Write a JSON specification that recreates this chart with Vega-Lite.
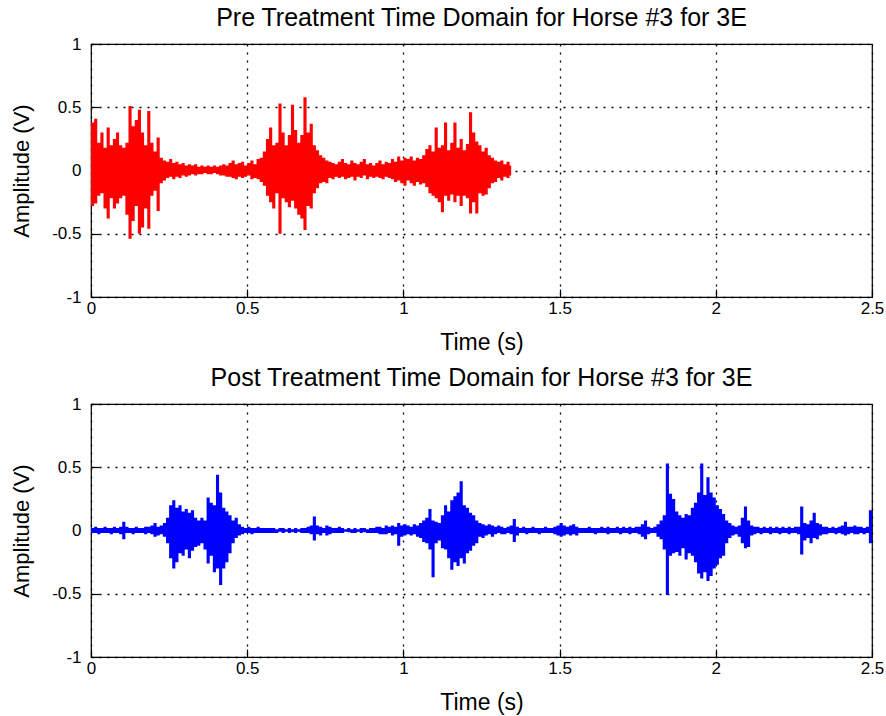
{
"$schema": "https://vega.github.io/schema/vega-lite/v6.json",
"autosize": {"type": "pad"},
"padding": {"left": 10, "top": 5, "right": 5, "bottom": 5},
"background": "white",
"spacing": 107,
"bounds": "flush",
"config": {
"view": {"stroke": "#000", "strokeWidth": 1.2},
"font": "Liberation Sans",
"axis": {"grid": true, "gridColor": "#000", "gridDash": [2, 6], "gridWidth": 1.3, "gridOpacity": 1, "domain": false, "ticks": true, "tickColor": "#000", "tickSize": -8, "tickWidth": 1.2, "labelFont": "Liberation Sans", "labelFontSize": 17, "labelColor": "#000", "labelFlush": false, "labelOverlap": false, "titleFont": "Liberation Sans", "titleFontSize": 22, "titleFontWeight": "normal", "titleColor": "#000"},
"axisX": {"labelPadding": 11, "titlePadding": 15, "titleFontSize": 23},
"axisY": {"labelPadding": 18, "titlePadding": 18},
"title": {"font": "Liberation Sans", "fontSize": 25, "fontWeight": "normal", "color": "#000", "offset": 4, "anchor": "middle"}
},
"datasets": {
"pre": [
{"t":0.00,"hi":0.38,"lo":-0.28},{"t":0.01,"hi":0.41,"lo":-0.26},{"t":0.02,"hi":0.22,"lo":-0.2},{"t":0.03,"hi":0.3,"lo":-0.18},{"t":0.04,"hi":0.18,"lo":-0.3},
{"t":0.05,"hi":0.34,"lo":-0.38},{"t":0.06,"hi":0.2,"lo":-0.22},{"t":0.07,"hi":0.25,"lo":-0.3},{"t":0.08,"hi":0.3,"lo":-0.26},{"t":0.09,"hi":0.2,"lo":-0.22},
{"t":0.10,"hi":0.18,"lo":-0.2},{"t":0.11,"hi":0.22,"lo":-0.35},{"t":0.12,"hi":0.51,"lo":-0.54},{"t":0.13,"hi":0.35,"lo":-0.4},{"t":0.14,"hi":0.4,"lo":-0.28},
{"t":0.15,"hi":0.48,"lo":-0.5},{"t":0.16,"hi":0.3,"lo":-0.45},{"t":0.17,"hi":0.2,"lo":-0.3},{"t":0.18,"hi":0.47,"lo":-0.46},{"t":0.19,"hi":0.22,"lo":-0.2},
{"t":0.20,"hi":0.15,"lo":-0.16},{"t":0.21,"hi":0.26,"lo":-0.32},{"t":0.22,"hi":0.1,"lo":-0.1},{"t":0.23,"hi":0.08,"lo":-0.08},{"t":0.24,"hi":0.07,"lo":-0.06},
{"t":0.25,"hi":0.09,"lo":-0.05},{"t":0.26,"hi":0.06,"lo":-0.07},{"t":0.27,"hi":0.07,"lo":-0.05},{"t":0.28,"hi":0.05,"lo":-0.06},{"t":0.29,"hi":0.06,"lo":-0.04},
{"t":0.30,"hi":0.04,"lo":-0.05},{"t":0.31,"hi":0.05,"lo":-0.04},{"t":0.32,"hi":0.04,"lo":-0.03},{"t":0.33,"hi":0.05,"lo":-0.04},{"t":0.34,"hi":0.03,"lo":-0.03},
{"t":0.35,"hi":0.04,"lo":-0.03},{"t":0.36,"hi":0.03,"lo":-0.02},{"t":0.37,"hi":0.04,"lo":-0.03},{"t":0.38,"hi":0.03,"lo":-0.03},{"t":0.39,"hi":0.04,"lo":-0.02},
{"t":0.40,"hi":0.03,"lo":-0.03},{"t":0.41,"hi":0.04,"lo":-0.04},{"t":0.42,"hi":0.05,"lo":-0.04},{"t":0.43,"hi":0.04,"lo":-0.05},{"t":0.44,"hi":0.06,"lo":-0.05},
{"t":0.45,"hi":0.08,"lo":-0.06},{"t":0.46,"hi":0.05,"lo":-0.07},{"t":0.47,"hi":0.06,"lo":-0.05},{"t":0.48,"hi":0.07,"lo":-0.06},{"t":0.49,"hi":0.04,"lo":-0.05},
{"t":0.50,"hi":0.06,"lo":-0.04},{"t":0.51,"hi":0.08,"lo":-0.07},{"t":0.52,"hi":0.05,"lo":-0.06},{"t":0.53,"hi":0.09,"lo":-0.07},{"t":0.54,"hi":0.1,"lo":-0.09},
{"t":0.55,"hi":0.15,"lo":-0.12},{"t":0.56,"hi":0.25,"lo":-0.2},{"t":0.57,"hi":0.34,"lo":-0.25},{"t":0.58,"hi":0.2,"lo":-0.3},{"t":0.59,"hi":0.22,"lo":-0.18},
{"t":0.60,"hi":0.53,"lo":-0.5},{"t":0.61,"hi":0.3,"lo":-0.22},{"t":0.62,"hi":0.2,"lo":-0.25},{"t":0.63,"hi":0.28,"lo":-0.29},{"t":0.64,"hi":0.52,"lo":-0.24},
{"t":0.65,"hi":0.32,"lo":-0.3},{"t":0.66,"hi":0.22,"lo":-0.35},{"t":0.67,"hi":0.28,"lo":-0.38},{"t":0.68,"hi":0.58,"lo":-0.47},{"t":0.69,"hi":0.3,"lo":-0.28},
{"t":0.70,"hi":0.37,"lo":-0.3},{"t":0.71,"hi":0.2,"lo":-0.18},{"t":0.72,"hi":0.16,"lo":-0.14},{"t":0.73,"hi":0.12,"lo":-0.1},{"t":0.74,"hi":0.1,"lo":-0.09},
{"t":0.75,"hi":0.08,"lo":-0.1},{"t":0.76,"hi":0.07,"lo":-0.06},{"t":0.77,"hi":0.06,"lo":-0.07},{"t":0.78,"hi":0.05,"lo":-0.05},{"t":0.79,"hi":0.07,"lo":-0.06},
{"t":0.80,"hi":0.09,"lo":-0.05},{"t":0.81,"hi":0.06,"lo":-0.07},{"t":0.82,"hi":0.05,"lo":-0.06},{"t":0.83,"hi":0.08,"lo":-0.05},{"t":0.84,"hi":0.06,"lo":-0.08},
{"t":0.85,"hi":0.05,"lo":-0.05},{"t":0.86,"hi":0.07,"lo":-0.06},{"t":0.87,"hi":0.09,"lo":-0.04},{"t":0.88,"hi":0.05,"lo":-0.07},{"t":0.89,"hi":0.06,"lo":-0.05},
{"t":0.90,"hi":0.04,"lo":-0.06},{"t":0.91,"hi":0.06,"lo":-0.05},{"t":0.92,"hi":0.08,"lo":-0.06},{"t":0.93,"hi":0.05,"lo":-0.07},{"t":0.94,"hi":0.07,"lo":-0.05},
{"t":0.95,"hi":0.06,"lo":-0.06},{"t":0.96,"hi":0.09,"lo":-0.07},{"t":0.97,"hi":0.07,"lo":-0.09},{"t":0.98,"hi":0.11,"lo":-0.08},{"t":0.99,"hi":0.08,"lo":-0.1},
{"t":1.00,"hi":0.1,"lo":-0.12},{"t":1.01,"hi":0.09,"lo":-0.08},{"t":1.02,"hi":0.11,"lo":-0.1},{"t":1.03,"hi":0.08,"lo":-0.12},{"t":1.04,"hi":0.1,"lo":-0.09},
{"t":1.05,"hi":0.09,"lo":-0.11},{"t":1.06,"hi":0.12,"lo":-0.1},{"t":1.07,"hi":0.17,"lo":-0.13},{"t":1.08,"hi":0.2,"lo":-0.18},{"t":1.09,"hi":0.15,"lo":-0.2},
{"t":1.10,"hi":0.34,"lo":-0.22},{"t":1.11,"hi":0.18,"lo":-0.25},{"t":1.12,"hi":0.2,"lo":-0.33},{"t":1.13,"hi":0.38,"lo":-0.2},{"t":1.14,"hi":0.16,"lo":-0.24},
{"t":1.15,"hi":0.22,"lo":-0.19},{"t":1.16,"hi":0.38,"lo":-0.25},{"t":1.17,"hi":0.18,"lo":-0.2},{"t":1.18,"hi":0.25,"lo":-0.28},{"t":1.19,"hi":0.16,"lo":-0.2},
{"t":1.20,"hi":0.21,"lo":-0.22},{"t":1.21,"hi":0.46,"lo":-0.34},{"t":1.22,"hi":0.3,"lo":-0.25},{"t":1.23,"hi":0.23,"lo":-0.34},{"t":1.24,"hi":0.2,"lo":-0.18},
{"t":1.25,"hi":0.15,"lo":-0.2},{"t":1.26,"hi":0.18,"lo":-0.19},{"t":1.27,"hi":0.12,"lo":-0.14},{"t":1.28,"hi":0.1,"lo":-0.1},{"t":1.29,"hi":0.08,"lo":-0.09},
{"t":1.30,"hi":0.07,"lo":-0.06},{"t":1.31,"hi":0.08,"lo":-0.08},{"t":1.32,"hi":0.05,"lo":-0.05},{"t":1.33,"hi":0.07,"lo":-0.06},{"t":1.34,"hi":0.04,"lo":-0.04},
{"t":1.345,"hi":0.03,"lo":-0.03}
],
"post": [
{"t":0.00,"hi":0.02,"lo":-0.02},{"t":0.01,"hi":0.03,"lo":-0.02},{"t":0.02,"hi":0.02,"lo":-0.03},{"t":0.03,"hi":0.02,"lo":-0.02},{"t":0.04,"hi":0.03,"lo":-0.02},
{"t":0.05,"hi":0.02,"lo":-0.02},{"t":0.06,"hi":0.02,"lo":-0.03},{"t":0.07,"hi":0.03,"lo":-0.02},{"t":0.08,"hi":0.02,"lo":-0.02},{"t":0.09,"hi":0.03,"lo":-0.03},
{"t":0.10,"hi":0.07,"lo":-0.07},{"t":0.11,"hi":0.03,"lo":-0.02},{"t":0.12,"hi":0.02,"lo":-0.02},{"t":0.13,"hi":0.02,"lo":-0.03},{"t":0.14,"hi":0.03,"lo":-0.02},
{"t":0.15,"hi":0.02,"lo":-0.02},{"t":0.16,"hi":0.02,"lo":-0.02},{"t":0.17,"hi":0.03,"lo":-0.03},{"t":0.18,"hi":0.03,"lo":-0.02},{"t":0.19,"hi":0.04,"lo":-0.03},
{"t":0.20,"hi":0.06,"lo":-0.05},{"t":0.21,"hi":0.03,"lo":-0.04},{"t":0.22,"hi":0.04,"lo":-0.03},{"t":0.23,"hi":0.06,"lo":-0.05},{"t":0.24,"hi":0.1,"lo":-0.1},
{"t":0.25,"hi":0.2,"lo":-0.22},{"t":0.26,"hi":0.24,"lo":-0.3},{"t":0.27,"hi":0.18,"lo":-0.25},{"t":0.28,"hi":0.2,"lo":-0.18},{"t":0.29,"hi":0.15,"lo":-0.2},
{"t":0.30,"hi":0.17,"lo":-0.15},{"t":0.31,"hi":0.14,"lo":-0.22},{"t":0.32,"hi":0.16,"lo":-0.16},{"t":0.33,"hi":0.1,"lo":-0.13},{"t":0.34,"hi":0.08,"lo":-0.12},
{"t":0.35,"hi":0.1,"lo":-0.1},{"t":0.36,"hi":0.08,"lo":-0.15},{"t":0.37,"hi":0.26,"lo":-0.26},{"t":0.38,"hi":0.22,"lo":-0.2},{"t":0.39,"hi":0.2,"lo":-0.33},
{"t":0.40,"hi":0.44,"lo":-0.3},{"t":0.41,"hi":0.3,"lo":-0.43},{"t":0.42,"hi":0.18,"lo":-0.3},{"t":0.43,"hi":0.15,"lo":-0.25},{"t":0.44,"hi":0.12,"lo":-0.18},
{"t":0.45,"hi":0.08,"lo":-0.1},{"t":0.46,"hi":0.1,"lo":-0.06},{"t":0.47,"hi":0.05,"lo":-0.04},{"t":0.48,"hi":0.03,"lo":-0.03},{"t":0.49,"hi":0.02,"lo":-0.02},
{"t":0.50,"hi":0.03,"lo":-0.02},{"t":0.51,"hi":0.02,"lo":-0.03},{"t":0.52,"hi":0.02,"lo":-0.02},{"t":0.53,"hi":0.03,"lo":-0.02},{"t":0.54,"hi":0.02,"lo":-0.02},
{"t":0.55,"hi":0.02,"lo":-0.02},{"t":0.56,"hi":0.02,"lo":-0.02},{"t":0.57,"hi":0.02,"lo":-0.02},{"t":0.58,"hi":0.02,"lo":-0.02},{"t":0.59,"hi":0.01,"lo":-0.02},
{"t":0.60,"hi":0.02,"lo":-0.01},{"t":0.61,"hi":0.02,"lo":-0.02},{"t":0.62,"hi":0.01,"lo":-0.01},{"t":0.63,"hi":0.02,"lo":-0.02},{"t":0.64,"hi":0.01,"lo":-0.01},
{"t":0.65,"hi":0.02,"lo":-0.02},{"t":0.66,"hi":0.01,"lo":-0.01},{"t":0.67,"hi":0.02,"lo":-0.02},{"t":0.68,"hi":0.02,"lo":-0.02},{"t":0.69,"hi":0.03,"lo":-0.02},
{"t":0.70,"hi":0.04,"lo":-0.03},{"t":0.71,"hi":0.11,"lo":-0.08},{"t":0.72,"hi":0.04,"lo":-0.03},{"t":0.73,"hi":0.03,"lo":-0.04},{"t":0.74,"hi":0.02,"lo":-0.02},
{"t":0.75,"hi":0.04,"lo":-0.04},{"t":0.76,"hi":0.03,"lo":-0.03},{"t":0.77,"hi":0.02,"lo":-0.02},{"t":0.78,"hi":0.02,"lo":-0.02},{"t":0.79,"hi":0.03,"lo":-0.02},
{"t":0.80,"hi":0.02,"lo":-0.02},{"t":0.81,"hi":0.01,"lo":-0.01},{"t":0.82,"hi":0.02,"lo":-0.01},{"t":0.83,"hi":0.01,"lo":-0.02},{"t":0.84,"hi":0.02,"lo":-0.02},
{"t":0.85,"hi":0.01,"lo":-0.01},{"t":0.86,"hi":0.02,"lo":-0.02},{"t":0.87,"hi":0.02,"lo":-0.01},{"t":0.88,"hi":0.01,"lo":-0.02},{"t":0.89,"hi":0.02,"lo":-0.02},
{"t":0.90,"hi":0.02,"lo":-0.02},{"t":0.91,"hi":0.03,"lo":-0.02},{"t":0.92,"hi":0.03,"lo":-0.03},{"t":0.93,"hi":0.02,"lo":-0.03},{"t":0.94,"hi":0.04,"lo":-0.03},
{"t":0.95,"hi":0.03,"lo":-0.02},{"t":0.96,"hi":0.04,"lo":-0.04},{"t":0.97,"hi":0.03,"lo":-0.03},{"t":0.98,"hi":0.06,"lo":-0.12},{"t":0.99,"hi":0.04,"lo":-0.05},
{"t":1.00,"hi":0.05,"lo":-0.04},{"t":1.01,"hi":0.04,"lo":-0.03},{"t":1.02,"hi":0.03,"lo":-0.04},{"t":1.03,"hi":0.05,"lo":-0.03},{"t":1.04,"hi":0.04,"lo":-0.05},
{"t":1.05,"hi":0.06,"lo":-0.06},{"t":1.06,"hi":0.08,"lo":-0.09},{"t":1.07,"hi":0.1,"lo":-0.1},{"t":1.08,"hi":0.17,"lo":-0.15},{"t":1.09,"hi":0.08,"lo":-0.37},
{"t":1.10,"hi":0.07,"lo":-0.1},{"t":1.11,"hi":0.06,"lo":-0.08},{"t":1.12,"hi":0.12,"lo":-0.14},{"t":1.13,"hi":0.2,"lo":-0.15},{"t":1.14,"hi":0.15,"lo":-0.22},
{"t":1.15,"hi":0.24,"lo":-0.31},{"t":1.16,"hi":0.27,"lo":-0.25},{"t":1.17,"hi":0.3,"lo":-0.28},{"t":1.18,"hi":0.39,"lo":-0.22},{"t":1.19,"hi":0.2,"lo":-0.26},
{"t":1.20,"hi":0.18,"lo":-0.18},{"t":1.21,"hi":0.14,"lo":-0.16},{"t":1.22,"hi":0.12,"lo":-0.12},{"t":1.23,"hi":0.08,"lo":-0.1},{"t":1.24,"hi":0.06,"lo":-0.05},
{"t":1.25,"hi":0.05,"lo":-0.06},{"t":1.26,"hi":0.04,"lo":-0.04},{"t":1.27,"hi":0.05,"lo":-0.03},{"t":1.28,"hi":0.04,"lo":-0.05},{"t":1.29,"hi":0.03,"lo":-0.03},
{"t":1.30,"hi":0.04,"lo":-0.02},{"t":1.31,"hi":0.03,"lo":-0.03},{"t":1.32,"hi":0.02,"lo":-0.03},{"t":1.33,"hi":0.03,"lo":-0.02},{"t":1.34,"hi":0.04,"lo":-0.03},
{"t":1.35,"hi":0.09,"lo":-0.09},{"t":1.36,"hi":0.03,"lo":-0.04},{"t":1.37,"hi":0.02,"lo":-0.02},{"t":1.38,"hi":0.03,"lo":-0.02},{"t":1.39,"hi":0.02,"lo":-0.03},
{"t":1.40,"hi":0.02,"lo":-0.02},{"t":1.41,"hi":0.03,"lo":-0.02},{"t":1.42,"hi":0.02,"lo":-0.02},{"t":1.43,"hi":0.02,"lo":-0.03},{"t":1.44,"hi":0.02,"lo":-0.02},
{"t":1.45,"hi":0.03,"lo":-0.02},{"t":1.46,"hi":0.02,"lo":-0.02},{"t":1.47,"hi":0.02,"lo":-0.02},{"t":1.48,"hi":0.03,"lo":-0.03},{"t":1.49,"hi":0.04,"lo":-0.04},
{"t":1.50,"hi":0.06,"lo":-0.05},{"t":1.51,"hi":0.04,"lo":-0.04},{"t":1.52,"hi":0.03,"lo":-0.03},{"t":1.53,"hi":0.04,"lo":-0.04},{"t":1.54,"hi":0.05,"lo":-0.03},
{"t":1.55,"hi":0.03,"lo":-0.04},{"t":1.56,"hi":0.02,"lo":-0.02},{"t":1.57,"hi":0.02,"lo":-0.02},{"t":1.58,"hi":0.02,"lo":-0.02},{"t":1.59,"hi":0.03,"lo":-0.02},
{"t":1.60,"hi":0.02,"lo":-0.02},{"t":1.61,"hi":0.02,"lo":-0.03},{"t":1.62,"hi":0.02,"lo":-0.02},{"t":1.63,"hi":0.03,"lo":-0.02},{"t":1.64,"hi":0.02,"lo":-0.02},
{"t":1.65,"hi":0.03,"lo":-0.03},{"t":1.66,"hi":0.02,"lo":-0.02},{"t":1.67,"hi":0.02,"lo":-0.02},{"t":1.68,"hi":0.03,"lo":-0.02},{"t":1.69,"hi":0.02,"lo":-0.03},
{"t":1.70,"hi":0.03,"lo":-0.02},{"t":1.71,"hi":0.02,"lo":-0.02},{"t":1.72,"hi":0.03,"lo":-0.03},{"t":1.73,"hi":0.02,"lo":-0.02},{"t":1.74,"hi":0.03,"lo":-0.02},
{"t":1.75,"hi":0.03,"lo":-0.03},{"t":1.76,"hi":0.05,"lo":-0.05},{"t":1.77,"hi":0.08,"lo":-0.07},{"t":1.78,"hi":0.03,"lo":-0.03},{"t":1.79,"hi":0.02,"lo":-0.02},
{"t":1.80,"hi":0.03,"lo":-0.02},{"t":1.81,"hi":0.05,"lo":-0.05},{"t":1.82,"hi":0.08,"lo":-0.07},{"t":1.83,"hi":0.12,"lo":-0.15},{"t":1.84,"hi":0.53,"lo":-0.51},
{"t":1.85,"hi":0.29,"lo":-0.2},{"t":1.86,"hi":0.25,"lo":-0.18},{"t":1.87,"hi":0.15,"lo":-0.17},{"t":1.88,"hi":0.12,"lo":-0.2},{"t":1.89,"hi":0.1,"lo":-0.14},
{"t":1.90,"hi":0.13,"lo":-0.23},{"t":1.91,"hi":0.12,"lo":-0.18},{"t":1.92,"hi":0.18,"lo":-0.2},{"t":1.93,"hi":0.22,"lo":-0.25},{"t":1.94,"hi":0.3,"lo":-0.34},
{"t":1.95,"hi":0.53,"lo":-0.38},{"t":1.96,"hi":0.28,"lo":-0.33},{"t":1.97,"hi":0.42,"lo":-0.4},{"t":1.98,"hi":0.3,"lo":-0.36},{"t":1.99,"hi":0.26,"lo":-0.3},
{"t":2.00,"hi":0.2,"lo":-0.27},{"t":2.01,"hi":0.17,"lo":-0.22},{"t":2.02,"hi":0.13,"lo":-0.2},{"t":2.03,"hi":0.08,"lo":-0.1},{"t":2.04,"hi":0.06,"lo":-0.06},
{"t":2.05,"hi":0.04,"lo":-0.04},{"t":2.06,"hi":0.03,"lo":-0.03},{"t":2.07,"hi":0.04,"lo":-0.05},{"t":2.08,"hi":0.1,"lo":-0.1},{"t":2.09,"hi":0.19,"lo":-0.14},
{"t":2.10,"hi":0.08,"lo":-0.13},{"t":2.11,"hi":0.04,"lo":-0.04},{"t":2.12,"hi":0.03,"lo":-0.03},{"t":2.13,"hi":0.03,"lo":-0.02},{"t":2.14,"hi":0.02,"lo":-0.03},
{"t":2.15,"hi":0.03,"lo":-0.02},{"t":2.16,"hi":0.02,"lo":-0.02},{"t":2.17,"hi":0.03,"lo":-0.03},{"t":2.18,"hi":0.02,"lo":-0.02},{"t":2.19,"hi":0.03,"lo":-0.02},
{"t":2.20,"hi":0.02,"lo":-0.03},{"t":2.21,"hi":0.03,"lo":-0.02},{"t":2.22,"hi":0.02,"lo":-0.02},{"t":2.23,"hi":0.03,"lo":-0.03},{"t":2.24,"hi":0.02,"lo":-0.02},
{"t":2.25,"hi":0.03,"lo":-0.02},{"t":2.26,"hi":0.03,"lo":-0.03},{"t":2.27,"hi":0.19,"lo":-0.19},{"t":2.28,"hi":0.06,"lo":-0.08},{"t":2.29,"hi":0.05,"lo":-0.06},
{"t":2.30,"hi":0.08,"lo":-0.1},{"t":2.31,"hi":0.14,"lo":-0.06},{"t":2.32,"hi":0.06,"lo":-0.07},{"t":2.33,"hi":0.05,"lo":-0.04},{"t":2.34,"hi":0.03,"lo":-0.03},
{"t":2.35,"hi":0.03,"lo":-0.03},{"t":2.36,"hi":0.02,"lo":-0.02},{"t":2.37,"hi":0.03,"lo":-0.02},{"t":2.38,"hi":0.02,"lo":-0.03},{"t":2.39,"hi":0.03,"lo":-0.02},
{"t":2.40,"hi":0.04,"lo":-0.03},{"t":2.41,"hi":0.07,"lo":-0.04},{"t":2.42,"hi":0.03,"lo":-0.03},{"t":2.43,"hi":0.03,"lo":-0.02},{"t":2.44,"hi":0.04,"lo":-0.03},
{"t":2.45,"hi":0.03,"lo":-0.03},{"t":2.46,"hi":0.03,"lo":-0.02},{"t":2.47,"hi":0.02,"lo":-0.03},{"t":2.48,"hi":0.03,"lo":-0.02},{"t":2.49,"hi":0.16,"lo":-0.1},
{"t":2.50,"hi":0.03,"lo":-0.02}
]
},
"vconcat": [
{
"title": "Pre Treatment Time Domain for Horse #3 for 3E",
"width": 781, "height": 253,
"data": {"name": "pre"},
"mark": {"type": "area", "interpolate": "step-after", "color": "#ff0000", "opacity": 1},
"encoding": {
"x": {"field": "t", "type": "quantitative", "scale": {"domain": [0, 2.5], "nice": false}, "axis": {"title": "Time (s)", "values": [0, 0.5, 1, 1.5, 2, 2.5], "labelExpr": "toString(datum.value)"}},
"y": {"field": "hi", "type": "quantitative", "scale": {"domain": [-1, 1], "nice": false}, "axis": {"title": "Amplitude (V)", "values": [-1, -0.5, 0, 0.5, 1], "labelExpr": "toString(datum.value)"}},
"y2": {"field": "lo"}
}
},
{
"title": "Post Treatment Time Domain for Horse #3 for 3E",
"width": 781, "height": 253,
"data": {"name": "post"},
"mark": {"type": "area", "interpolate": "step-after", "color": "#0000ff", "opacity": 1},
"encoding": {
"x": {"field": "t", "type": "quantitative", "scale": {"domain": [0, 2.5], "nice": false}, "axis": {"title": "Time (s)", "values": [0, 0.5, 1, 1.5, 2, 2.5], "labelExpr": "toString(datum.value)"}},
"y": {"field": "hi", "type": "quantitative", "scale": {"domain": [-1, 1], "nice": false}, "axis": {"title": "Amplitude (V)", "values": [-1, -0.5, 0, 0.5, 1], "labelExpr": "toString(datum.value)"}},
"y2": {"field": "lo"}
}
}
]
}
